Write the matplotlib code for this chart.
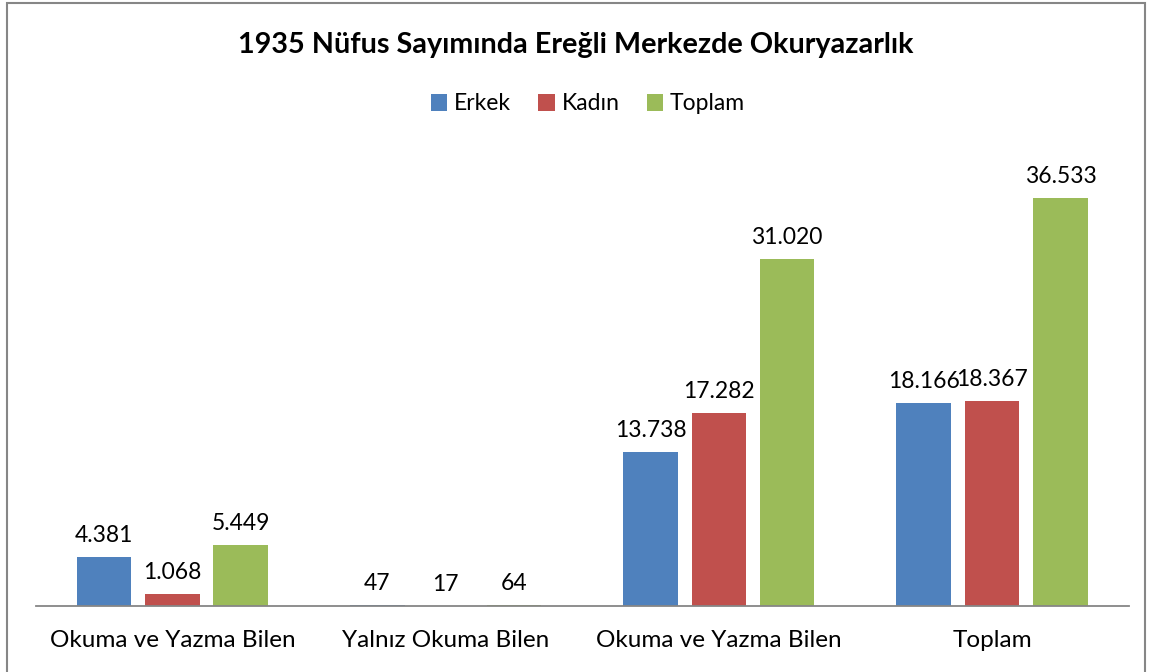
import matplotlib
matplotlib.use("Agg")
import matplotlib.pyplot as plt
from matplotlib.patches import Rectangle, Patch
import numpy as np

categories = ["Okuma ve Yazma Bilen", "Yalnız Okuma Bilen", "Okuma ve Yazma Bilen", "Toplam"]
erkek = [4381, 47, 13738, 18166]
kadin = [1068, 17, 17282, 18367]
toplam = [5449, 64, 31020, 36533]
series_names = ["Erkek", "Kadın", "Toplam"]
colors = ["#4F81BD", "#C0504D", "#9BBB59"]
title = "1935 Nüfus Sayımında Ereğli Merkezde Okuryazarlık"

plt.rcParams['font.family'] = ['Lato', 'DejaVu Sans']

W, H = 1152, 672
fig = plt.figure(figsize=(W / 100, H / 100), dpi=100)

# axes: left 35.8, right 1128.7, baseline 606, top 159 (40000)
ax = fig.add_axes([35.8 / W, 1 - 606 / H, (1128.7 - 35.8) / W, (606 - 159) / H])

x = np.arange(len(categories))
bw = 0.2
offsets = [-0.25, 0, 0.25]

def fmt(v):
    return f"{v:,}".replace(",", ".")

for vals, off, c in zip([erkek, kadin, toplam], offsets, colors):
    ax.bar(x + off, vals, width=bw, color=c, edgecolor='none')
    for xi, v in zip(x + off, vals):
        ax.annotate(fmt(v), (xi, v), xytext=(0, 8), textcoords='offset points',
                    ha='center', va='bottom', fontsize=16.5, color='black')

ax.set_xlim(-0.5, len(categories) - 0.5)
ax.set_ylim(0, 40000)
ax.set_yticks([])
ax.set_xticks(x)
ax.set_xticklabels(categories, fontsize=17.5)
ax.tick_params(axis='x', length=0, pad=17)
for s in ['top', 'right', 'left']:
    ax.spines[s].set_visible(False)
ax.spines['bottom'].set_color('#868686')
ax.spines['bottom'].set_linewidth(1.3)
ax.patch.set_alpha(0)

fig.text(576 / W, 1 - 45 / H, title, ha='center', va='center',
         fontsize=20.7, fontweight='bold', color='black')

handles = [Patch(facecolor=c, edgecolor='none') for c in colors]
fig.legend(handles, series_names, loc='center', bbox_to_anchor=(588 / W, 1 - 104 / H),
           ncol=3, frameon=False, fontsize=16.5, handlelength=0.7, handleheight=0.7,
           handletextpad=0.3, columnspacing=1.2)

border = Rectangle((7 / W, -0.05), (1145 - 7) / W, 1.05 - 3.5 / H, transform=fig.transFigure,
                   fill=False, edgecolor='#868686', linewidth=1.5)
fig.patches.append(border)

fig.savefig("out.png", dpi=100)
